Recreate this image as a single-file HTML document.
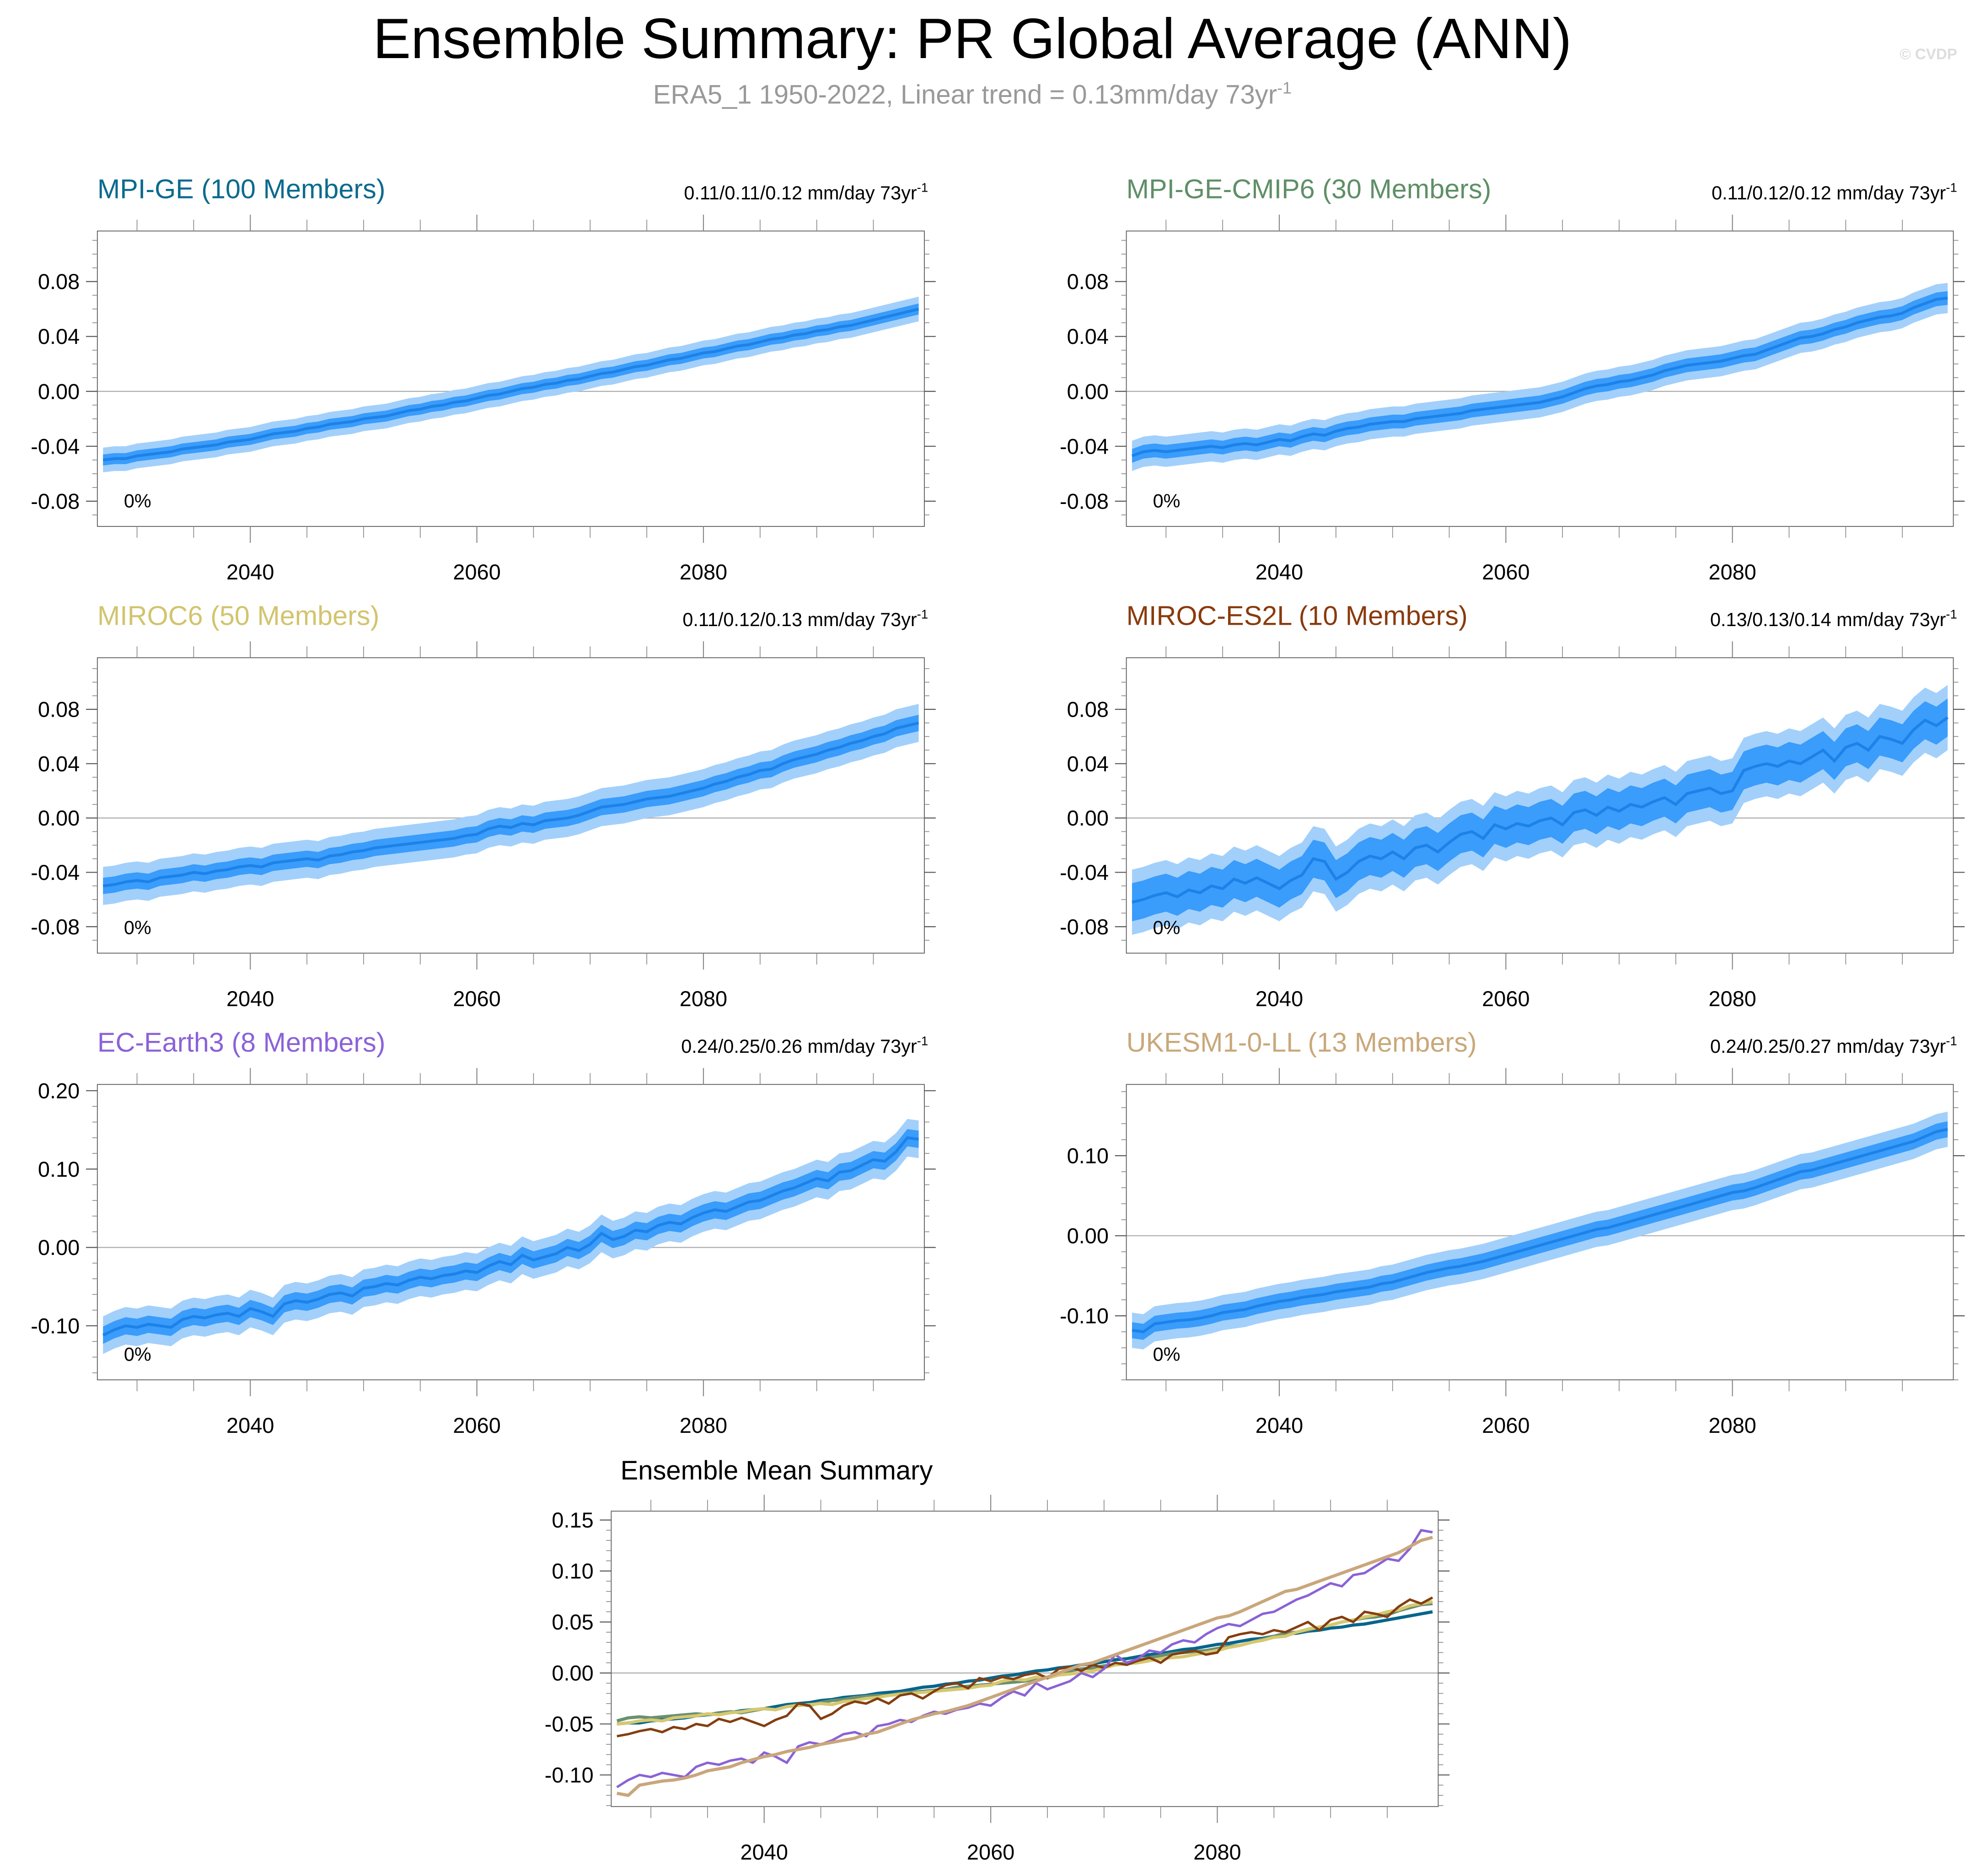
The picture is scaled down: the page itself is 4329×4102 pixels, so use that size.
<!DOCTYPE html>
<html><head><meta charset="utf-8"><style>
html,body{margin:0;padding:0;background:#fff}
svg{display:block}
text{font-family:"Liberation Sans",sans-serif}
</style></head><body>
<svg id="fig" width="4329" height="4102" viewBox="0 0 1568 1486" xmlns="http://www.w3.org/2000/svg">
<text x="770" y="46" font-size="45" text-anchor="middle" fill="#000">Ensemble Summary: PR Global Average (ANN)</text>
<text x="770" y="82" font-size="21" text-anchor="middle" fill="#999">ERA5_1 1950-2022, Linear trend = 0.13mm/day 73yr<tspan dy="-8" font-size="13">-1</tspan></text>
<text x="1550" y="47" font-size="12" text-anchor="end" fill="#ddd" font-weight="bold">© CVDP</text>
</svg>
<script>
const startYear = 2027;
const mpige = [-0.050,-0.049,-0.049,-0.047,-0.046,-0.045,-0.044,-0.042,-0.041,-0.040,-0.039,-0.037,-0.036,-0.035,-0.033,-0.031,-0.030,-0.029,-0.027,-0.026,-0.024,-0.023,-0.022,-0.020,-0.019,-0.018,-0.016,-0.014,-0.013,-0.011,-0.010,-0.008,-0.007,-0.005,-0.003,-0.002,0.000,0.002,0.003,0.005,0.006,0.008,0.009,0.011,0.013,0.014,0.016,0.018,0.019,0.021,0.023,0.024,0.026,0.028,0.029,0.031,0.033,0.034,0.036,0.038,0.039,0.041,0.042,0.044,0.045,0.047,0.048,0.050,0.052,0.054,0.056,0.058,0.060];
const cmip6 = [-0.047,-0.044,-0.043,-0.044,-0.043,-0.042,-0.041,-0.040,-0.041,-0.039,-0.038,-0.039,-0.037,-0.035,-0.036,-0.033,-0.031,-0.032,-0.029,-0.027,-0.026,-0.024,-0.023,-0.022,-0.022,-0.020,-0.019,-0.018,-0.017,-0.016,-0.014,-0.013,-0.012,-0.011,-0.010,-0.009,-0.008,-0.006,-0.004,-0.001,0.002,0.004,0.005,0.007,0.008,0.010,0.012,0.015,0.017,0.019,0.020,0.021,0.022,0.024,0.026,0.027,0.030,0.033,0.036,0.039,0.040,0.042,0.045,0.047,0.050,0.052,0.054,0.055,0.057,0.061,0.064,0.067,0.068];
const miroc6 = [-0.050,-0.049,-0.047,-0.046,-0.047,-0.044,-0.043,-0.042,-0.040,-0.041,-0.039,-0.038,-0.036,-0.035,-0.036,-0.033,-0.032,-0.031,-0.030,-0.031,-0.028,-0.027,-0.025,-0.024,-0.022,-0.021,-0.020,-0.019,-0.018,-0.017,-0.016,-0.015,-0.013,-0.012,-0.008,-0.006,-0.007,-0.004,-0.005,-0.002,-0.001,0.000,0.002,0.005,0.008,0.009,0.010,0.012,0.014,0.015,0.016,0.018,0.020,0.022,0.025,0.027,0.030,0.032,0.035,0.036,0.040,0.043,0.045,0.047,0.050,0.052,0.055,0.057,0.060,0.062,0.066,0.068,0.070];
const mirocES2L = [-0.062,-0.060,-0.057,-0.055,-0.058,-0.053,-0.055,-0.050,-0.052,-0.045,-0.048,-0.044,-0.048,-0.052,-0.046,-0.042,-0.030,-0.032,-0.045,-0.040,-0.032,-0.028,-0.030,-0.025,-0.030,-0.022,-0.020,-0.025,-0.018,-0.012,-0.010,-0.015,-0.005,-0.008,-0.004,-0.006,-0.002,0.000,-0.005,0.004,0.006,0.002,0.008,0.005,0.010,0.008,0.012,0.015,0.010,0.018,0.020,0.022,0.018,0.020,0.035,0.038,0.040,0.038,0.042,0.040,0.045,0.050,0.042,0.052,0.055,0.050,0.060,0.058,0.055,0.065,0.072,0.068,0.074];
const ecEarth3 = [-0.112,-0.105,-0.100,-0.102,-0.098,-0.100,-0.102,-0.092,-0.088,-0.090,-0.086,-0.084,-0.088,-0.078,-0.082,-0.088,-0.072,-0.068,-0.070,-0.066,-0.060,-0.058,-0.062,-0.052,-0.050,-0.046,-0.048,-0.042,-0.038,-0.040,-0.036,-0.034,-0.030,-0.032,-0.024,-0.018,-0.022,-0.010,-0.016,-0.012,-0.008,0.000,-0.004,0.004,0.018,0.010,0.014,0.022,0.020,0.028,0.032,0.030,0.038,0.044,0.048,0.046,0.052,0.058,0.060,0.066,0.072,0.076,0.082,0.088,0.085,0.096,0.098,0.105,0.112,0.110,0.122,0.140,0.138];
const ukesm = [-0.118,-0.120,-0.110,-0.108,-0.106,-0.105,-0.103,-0.100,-0.096,-0.094,-0.092,-0.088,-0.085,-0.082,-0.080,-0.077,-0.075,-0.073,-0.070,-0.068,-0.066,-0.064,-0.060,-0.058,-0.054,-0.050,-0.046,-0.043,-0.040,-0.038,-0.035,-0.032,-0.028,-0.024,-0.020,-0.016,-0.012,-0.008,-0.004,0.000,0.004,0.008,0.010,0.014,0.018,0.022,0.026,0.030,0.034,0.038,0.042,0.046,0.050,0.054,0.056,0.060,0.065,0.070,0.075,0.080,0.082,0.086,0.090,0.094,0.098,0.102,0.106,0.110,0.114,0.118,0.124,0.130,0.133];
const innerSpread = [0.004,0.005,0.006,0.014,0.011,0.010];
const outerSpread = [0.009,0.011,0.014,0.024,0.024,0.022];
const modelNames = ["MPI-GE (100 Members)","MPI-GE-CMIP6 (30 Members)","MIROC6 (50 Members)","MIROC-ES2L (10 Members)","EC-Earth3 (8 Members)","UKESM1-0-LL (13 Members)"];
const trendLabels = ["0.11/0.11/0.12","0.11/0.12/0.12","0.11/0.12/0.13","0.13/0.13/0.14","0.24/0.25/0.26","0.24/0.25/0.27"];
const yTicksSmall = [-0.08,-0.04,0.00,0.04,0.08];
const yTickLabelsSmall = ["-0.08","-0.04","0.00","0.04","0.08"];
const yTicksEC = [-0.10,0.00,0.10,0.20];
const yTickLabelsEC = ["-0.10","0.00","0.10","0.20"];
const yTicksUK = [-0.10,0.00,0.10];
const yTickLabelsUK = ["-0.10","0.00","0.10"];
const yTicksSum = [-0.10,-0.05,0.00,0.05,0.10,0.15];
const yTickLabelsSum = ["-0.10","-0.05","0.00","0.05","0.10","0.15"];
const xTicks = [2040,2060,2080];
const xTickLabels = ["2040","2060","2080"];

const NS="http://www.w3.org/2000/svg";
const svg=document.getElementById('fig');
function mk(tag,attrs,parent){const e=document.createElementNS(NS,tag);for(const k in attrs)e.setAttribute(k,attrs[k]);(parent||svg).appendChild(e);return e;}

const series=[mpige,cmip6,miroc6,mirocES2L,ecEarth3,ukesm];
const titleColors=["#0b6a8e","#5f8f66","#d2c46e","#8a3a0c","#8b62d8","#c9a87a"];
const lineColors=["#06658c","#6a9070","#d6c870","#843e10","#8a62d6","#caa67c"];
const panels=[
 {x:77,y:183,yMin:-0.0984,yMax:0.1168,ticks:yTicksSmall,labels:yTickLabelsSmall,minor:0.01},
 {x:892,y:183,yMin:-0.0984,yMax:0.1168,ticks:yTicksSmall,labels:yTickLabelsSmall,minor:0.01},
 {x:77,y:521,yMin:-0.0995,yMax:0.118,ticks:yTicksSmall,labels:yTickLabelsSmall,minor:0.01},
 {x:892,y:521,yMin:-0.0995,yMax:0.118,ticks:yTicksSmall,labels:yTickLabelsSmall,minor:0.01},
 {x:77,y:859,yMin:-0.169,yMax:0.208,ticks:yTicksEC,labels:yTickLabelsEC,minor:0.02},
 {x:892,y:859,yMin:-0.180,yMax:0.189,ticks:yTicksUK,labels:yTickLabelsUK,minor:0.02}
];
const W=655,H=234,X0=2026.5,X1=2099.5;

function axes(g,p,sx,sy,ticks,labels,minor,name){
  const z=mk('line',{x1:p.x,x2:p.x+W,y1:sy(0),y2:sy(0),stroke:'#aaa','stroke-width':0.8},g);
  
  
  const f=mk('rect',{x:p.x,y:p.y,width:W,height:H,fill:'none',stroke:'#666','stroke-width':0.7},g);
  
  
  for(let v=Math.ceil(p.yMin/minor)*minor; v<=p.yMax; v+=minor){
    const y=sy(v);
    mk('line',{x1:p.x-4,x2:p.x,y1:y,y2:y,stroke:'#888','stroke-width':0.6},g);
    mk('line',{x1:p.x+W,x2:p.x+W+4,y1:y,y2:y,stroke:'#888','stroke-width':0.6},g);
  }
  ticks.forEach((v,i)=>{
    const y=sy(v);
    mk('line',{x1:p.x-9,x2:p.x,y1:y,y2:y,stroke:'#555','stroke-width':0.8},g);
    mk('line',{x1:p.x+W,x2:p.x+W+9,y1:y,y2:y,stroke:'#555','stroke-width':0.8},g);
    const t=mk('text',{x:p.x-14,y:y+6,'font-size':17,'text-anchor':'end',fill:'#000'},g);
    t.textContent=labels[i];
    
    
  });
  for(let yr=2030; yr<=2095; yr+=5){
    const x=sx(yr), major=(yr%20===0);
    const L=major?13:9;
    mk('line',{x1:x,x2:x,y1:p.y-L,y2:p.y,stroke:'#888','stroke-width':major?0.8:0.6},g);
    mk('line',{x1:x,x2:x,y1:p.y+H,y2:p.y+H+L,stroke:'#888','stroke-width':major?0.8:0.6},g);
  }
  xTicks.forEach((yr,i)=>{
    const t=mk('text',{x:sx(yr),y:p.y+H+42,'font-size':17,'text-anchor':'middle',fill:'#000'},g);
    t.textContent=xTickLabels[i];
    
    
  });
}

panels.forEach((p,k)=>{
  const name='panel-'+(k+1);
  const g=mk('g',{});
  
  
  const sx=yr=>p.x+(yr-X0)/(X1-X0)*W;
  const sy=v=>p.y+(p.yMax-v)/(p.yMax-p.yMin)*H;
  const d=series[k];
  function band(w,fill,nm){
    let up=d.map((v,i)=>sx(startYear+i).toFixed(2)+','+sy(v+w).toFixed(2));
    let dn=d.map((v,i)=>sx(startYear+i).toFixed(2)+','+sy(v-w).toFixed(2)).reverse();
    const e=mk('polygon',{points:up.concat(dn).join(' '),fill:fill},g);
    
    
  }
  axes(g,p,sx,sy,p.ticks,p.labels,p.minor,name);
  band(outerSpread[k],'#a2d0fb',name+'-outer-band');
  band(innerSpread[k],'#3a9cfb',name+'-inner-band');
  const ln=mk('polyline',{points:d.map((v,i)=>sx(startYear+i).toFixed(2)+','+sy(v).toFixed(2)).join(' '),fill:'none',stroke:'#1c82e8','stroke-width':2.2},g);
  
  
  const tt=mk('text',{x:p.x,y:p.y-26,'font-size':21.5,fill:titleColors[k]},g);
  tt.textContent=modelNames[k];
  
  
  const tr=mk('text',{x:p.x+W+3,y:p.y-25,'font-size':15,'text-anchor':'end',fill:'#000'},g);
  tr.innerHTML=trendLabels[k]+' mm/day 73yr<tspan dy="-6" font-size="10">-1</tspan>';
  
  
  const pc=mk('text',{x:p.x+21,y:p.y+219,'font-size':15,fill:'#000'},g);
  pc.textContent='0%';
  
  
});

(function(){
  const p={x:484,y:1197,yMin:-0.131,yMax:0.1587};
  const name='summary-panel';
  const g=mk('g',{});
  
  
  const sx=yr=>p.x+(yr-X0)/(X1-X0)*W;
  const sy=v=>p.y+(p.yMax-v)/(p.yMax-p.yMin)*H;
  axes(g,p,sx,sy,yTicksSum,yTickLabelsSum,0.01,name);
  series.forEach((d,k)=>{
    const ln=mk('polyline',{points:d.map((v,i)=>sx(startYear+i).toFixed(2)+','+sy(v).toFixed(2)).join(' '),fill:'none',stroke:lineColors[k],'stroke-width':k===3||k===4?1.9:2.5},g);
    
    
  });
  const t=mk('text',{x:615,y:1172,'font-size':21,'text-anchor':'middle',fill:'#000'},g);
  t.textContent='Ensemble Mean Summary';
  
  
})();
</script>
</body></html>
